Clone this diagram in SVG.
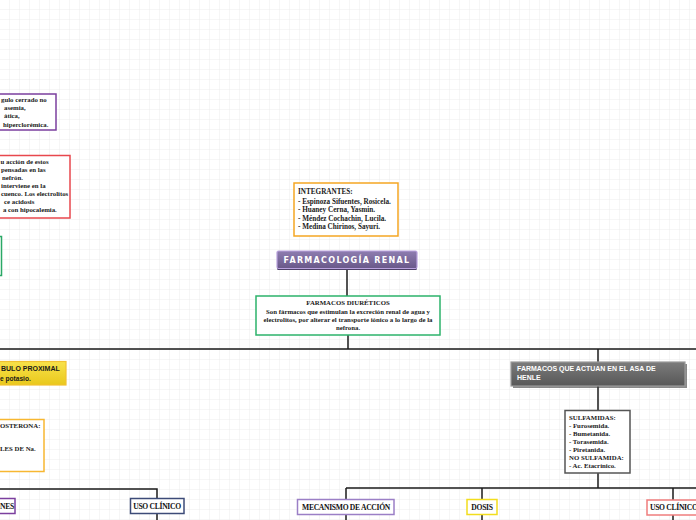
<svg xmlns="http://www.w3.org/2000/svg" width="696" height="520" viewBox="0 0 696 520">
<defs>
<pattern id="grid" width="10" height="10" patternUnits="userSpaceOnUse">
<rect width="10" height="10" fill="#ffffff"/>
<path d="M10 0V10H0" fill="none" stroke="#ededed" stroke-width="1"/>
</pattern>
<linearGradient id="gPurple" x1="0" y1="0" x2="0" y2="1">
<stop offset="0" stop-color="#8e7db0"/><stop offset="1" stop-color="#695889"/>
</linearGradient>
<linearGradient id="gGray" x1="0" y1="0" x2="0" y2="1">
<stop offset="0" stop-color="#7c7c7c"/><stop offset="1" stop-color="#575757"/>
</linearGradient>
<linearGradient id="gYellow" x1="0" y1="0" x2="0" y2="1">
<stop offset="0" stop-color="#f8e24a"/><stop offset="1" stop-color="#e9c81c"/>
</linearGradient>
</defs>
<style>
.t{font-family:"Liberation Serif",serif;font-weight:bold;font-size:6.8px;fill:#1a1a1a}
.t2{font-family:"Liberation Serif",serif;font-weight:bold;font-size:7.2px;fill:#1a1a1a}
.c{text-anchor:middle}
.box{fill:#ffffff;stroke-width:1.5}
.ln{stroke:#1a1a1a;stroke-width:1.5;fill:none}
.cap{font-family:"Liberation Serif",serif;font-weight:bold;font-size:7.6px;fill:#111;letter-spacing:-0.3px}
.w{font-family:"Liberation Sans Narrow","Liberation Sans",sans-serif;font-weight:bold;font-size:7px;fill:#ffffff}
</style>
<rect width="696" height="520" fill="url(#grid)"/>

<g id="connectors">
<path class="ln" d="M347 270V296"/>
<path class="ln" d="M348 335V349"/>
<path class="ln" d="M0 349H696"/>
<path class="ln" d="M598 349V362"/>
<path class="ln" d="M598 386V410"/>
<path class="ln" d="M598 473V488"/>
<path class="ln" d="M346 488H696"/>
<path class="ln" d="M346 488V520"/>
<path class="ln" d="M482 488V520"/>
<path class="ln" d="M673 488V520"/>
<path class="ln" d="M0 489H157V520"/>
</g>

<g id="node-purple-left">
<rect class="box" x="-60" y="94" width="116" height="36" stroke="#7b3f9e"/>
<text class="t" x="1" y="102">gulo cerrado no</text>
<text class="t" x="4" y="110">asemia,</text>
<text class="t" x="4" y="118">ática,</text>
<text class="t" x="3" y="126.5">hiperclorémica.</text>
</g>

<g id="node-red-left">
<rect class="box" x="-60" y="155.5" width="130" height="62.5" stroke="#e8474d"/>
<text class="t" x="0.5" y="164">u acción  de estos</text>
<text class="t" x="1" y="172">pensadas en las</text>
<text class="t" x="2" y="180">nefrón.</text>
<text class="t" x="1" y="188">interviene en la</text>
<text class="t" x="1" y="196">cuenco. Los electrolitos</text>
<text class="t" x="4" y="204">ce acidosis</text>
<text class="t" x="3" y="212">a  con hipocalemia.</text>
</g>

<g id="node-green-left">
<rect class="box" x="-60" y="236.5" width="61.5" height="39" stroke="#2aa866"/>
</g>

<g id="node-integrantes">
<rect class="box" x="294" y="183" width="104" height="53" stroke="#f5a623"/>
<text class="t2" x="298" y="193.5">INTEGRANTES:</text>
<text class="t2" x="298" y="203.5">- Espinoza Sifuentes, Rosicela.</text>
<text class="t2" x="298" y="212">- Huaney Cerna, Yasmin.</text>
<text class="t2" x="298" y="220.5">- Méndez Cochachin, Lucila.</text>
<text class="t2" x="298" y="229">- Medina Chirinos, Sayuri.</text>
</g>

<g id="node-farmacologia">
<rect x="277" y="252" width="140" height="18" rx="1.5" fill="#4e4068"/>
<rect x="277" y="251" width="140" height="17.5" rx="1.5" fill="url(#gPurple)" stroke="#b9a2de" stroke-width="1.2"/>
<text x="347" y="262.5" text-anchor="middle" font-family="'DejaVu Sans',sans-serif" font-weight="bold" font-size="8" letter-spacing="1.3" fill="#ffffff">FARMACOLOGÍA RENAL</text>
</g>

<g id="node-diureticos">
<rect class="box" x="256" y="296" width="184" height="39" stroke="#2db36b"/>
<text class="t c" x="348" y="305" font-size="7.1">FARMACOS DIURÉTICOS</text>
<text class="t c" x="348" y="313.5" font-size="7.1">Son fármacos que estimulan la excreción renal de agua y</text>
<text class="t c" x="348" y="321.5" font-size="7.1">electrolitos, por alterar el transporte iónico a lo largo de la</text>
<text class="t c" x="348" y="329.5" font-size="7.1">nefrona.</text>
</g>

<g id="node-tubulo">
<rect x="-60" y="361.5" width="126" height="23.5" fill="url(#gYellow)" stroke="#f2c230" stroke-width="1.2"/>
<text x="1" y="371" font-family="'Liberation Sans Narrow','Liberation Sans',sans-serif" font-weight="bold" font-size="7" fill="#1a1a1a">BULO  PROXIMAL</text>
<text x="0" y="380.5" font-family="'Liberation Sans',sans-serif" font-weight="bold" font-size="6.6" fill="#1a1a1a">e potasio.</text>
</g>

<g id="node-aldosterona">
<rect class="box" x="-60" y="419.5" width="104" height="52" stroke="#f7b731"/>
<text class="t" x="0" y="428">OSTERONA:</text>
<text class="t" x="0" y="451">LES DE Na.</text>
</g>

<g id="node-acciones">
<rect class="box" x="-60" y="498.5" width="75" height="15" stroke="#7b3f9e"/>
<text class="cap" x="0" y="508.5">NES</text>
</g>

<g id="node-uso-clinico-1">
<rect class="box" x="130.5" y="498.5" width="53.5" height="15" stroke="#3d4b78"/>
<text class="cap c" x="157" y="508.5">USO CLÍNICO</text>
</g>

<g id="node-asa-henle">
<rect x="513" y="364" width="174" height="24" fill="#3a3a3a" opacity="0.6"/>
<rect x="511" y="362" width="174" height="24" fill="url(#gGray)" stroke="#9a9a9a" stroke-width="1.2"/>
<text class="w" x="517" y="371">FARMACOS QUE ACTUAN EN EL  ASA DE</text>
<text class="w" x="517" y="380">HENLE</text>
</g>

<g id="node-sulfamidas">
<rect class="box" x="565" y="410.5" width="65" height="62.5" stroke="#555555" stroke-width="1"/>
<text class="t" x="569" y="419.5" font-size="7">SULFAMIDAS:</text>
<text class="t" x="569" y="427.5" font-size="7">- Furosemida.</text>
<text class="t" x="569" y="435.5" font-size="7">- Bumetanida.</text>
<text class="t" x="569" y="443.5" font-size="7">- Torasemida.</text>
<text class="t" x="569" y="451.5" font-size="7">- Piretanida.</text>
<text class="t" x="569" y="459.5" font-size="7">NO SULFAMIDA:</text>
<text class="t" x="569" y="467.5" font-size="7">- Ac. Etacrínico.</text>
</g>

<g id="node-mecanismo">
<rect class="box" x="297.5" y="499.5" width="96.5" height="15" stroke="#9b7fc6"/>
<text class="cap c" x="346" y="509.5">MECANISMO DE ACCIÓN</text>
</g>

<g id="node-dosis">
<rect class="box" x="467" y="499.5" width="30" height="15" stroke="#f2dd1e"/>
<text class="cap c" x="482" y="509.5">DOSIS</text>
</g>

<g id="node-uso-clinico-2">
<rect class="box" x="647" y="500" width="80" height="15" stroke="#ef7e7e"/>
<text class="cap" x="650" y="510" font-size="7.2" letter-spacing="-0.5">USO CLÍNICO</text>
</g>
</svg>
